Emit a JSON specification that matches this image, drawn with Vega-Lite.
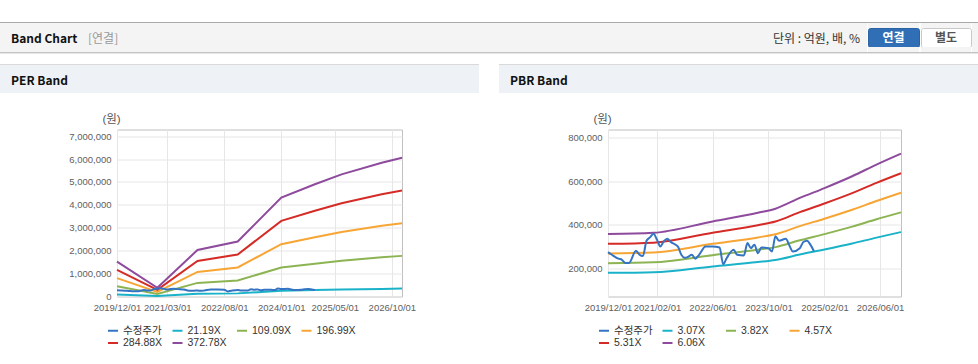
{
  "$schema": "https://vega.github.io/schema/vega-lite/v6.json",
  "autosize": {"type": "pad"},
  "padding": {"left": 0, "top": 22, "right": 0, "bottom": 0},
  "background": "white",
  "datasets": {
    "price": [
      {"date": "2019/12/01", "series": "수정주가", "value": 276000},
      {"date": "2020/01/01", "series": "수정주가", "value": 265000},
      {"date": "2020/03/01", "series": "수정주가", "value": 246000},
      {"date": "2020/04/01", "series": "수정주가", "value": 241000},
      {"date": "2020/05/01", "series": "수정주가", "value": 226000},
      {"date": "2020/06/01", "series": "수정주가", "value": 226000},
      {"date": "2020/08/01", "series": "수정주가", "value": 282000},
      {"date": "2020/09/01", "series": "수정주가", "value": 264000},
      {"date": "2020/10/01", "series": "수정주가", "value": 258000},
      {"date": "2020/11/01", "series": "수정주가", "value": 328000},
      {"date": "2020/12/01", "series": "수정주가", "value": 343000},
      {"date": "2021/01/01", "series": "수정주가", "value": 360000},
      {"date": "2021/02/01", "series": "수정주가", "value": 332000},
      {"date": "2021/03/01", "series": "수정주가", "value": 302000},
      {"date": "2021/04/01", "series": "수정주가", "value": 325000},
      {"date": "2021/05/01", "series": "수정주가", "value": 337000},
      {"date": "2021/06/01", "series": "수정주가", "value": 322000},
      {"date": "2021/08/01", "series": "수정주가", "value": 302000},
      {"date": "2021/09/01", "series": "수정주가", "value": 264000},
      {"date": "2021/10/01", "series": "수정주가", "value": 250000},
      {"date": "2021/11/01", "series": "수정주가", "value": 255000},
      {"date": "2021/12/01", "series": "수정주가", "value": 264000},
      {"date": "2022/01/01", "series": "수정주가", "value": 246000},
      {"date": "2022/02/01", "series": "수정주가", "value": 262000},
      {"date": "2022/04/01", "series": "수정주가", "value": 302000},
      {"date": "2022/06/01", "series": "수정주가", "value": 302000},
      {"date": "2022/08/01", "series": "수정주가", "value": 297000},
      {"date": "2022/09/01", "series": "수정주가", "value": 221000},
      {"date": "2022/10/01", "series": "수정주가", "value": 248000},
      {"date": "2022/12/01", "series": "수정주가", "value": 287000},
      {"date": "2023/01/01", "series": "수정주가", "value": 264000},
      {"date": "2023/03/01", "series": "수정주가", "value": 261000},
      {"date": "2023/04/01", "series": "수정주가", "value": 317000},
      {"date": "2023/05/01", "series": "수정주가", "value": 294000},
      {"date": "2023/06/01", "series": "수정주가", "value": 310000},
      {"date": "2023/07/01", "series": "수정주가", "value": 271000},
      {"date": "2023/08/01", "series": "수정주가", "value": 297000},
      {"date": "2023/10/01", "series": "수정주가", "value": 294000},
      {"date": "2023/11/01", "series": "수정주가", "value": 279000},
      {"date": "2023/12/01", "series": "수정주가", "value": 348000},
      {"date": "2024/01/01", "series": "수정주가", "value": 328000},
      {"date": "2024/03/01", "series": "수정주가", "value": 337000},
      {"date": "2024/04/01", "series": "수정주가", "value": 306000},
      {"date": "2024/05/01", "series": "수정주가", "value": 279000},
      {"date": "2024/07/01", "series": "수정주가", "value": 294000},
      {"date": "2024/08/01", "series": "수정주가", "value": 322000},
      {"date": "2024/09/01", "series": "수정주가", "value": 328000},
      {"date": "2024/10/01", "series": "수정주가", "value": 310000},
      {"date": "2024/11/01", "series": "수정주가", "value": 280000}
    ],
    "perBands": [
      {"date": "2019/12/01", "series": "21.19X", "value": 86400},
      {"date": "2020/12/01", "series": "21.19X", "value": 21600},
      {"date": "2021/12/01", "series": "21.19X", "value": 115400},
      {"date": "2022/12/01", "series": "21.19X", "value": 136400},
      {"date": "2024/01/01", "series": "21.19X", "value": 245600},
      {"date": "2024/11/01", "series": "21.19X", "value": 278500},
      {"date": "2025/07/01", "series": "21.19X", "value": 303000},
      {"date": "2026/07/01", "series": "21.19X", "value": 332000},
      {"date": "2027/01/01", "series": "21.19X", "value": 344500},
      {"date": "2019/12/01", "series": "109.09X", "value": 444800},
      {"date": "2020/12/01", "series": "109.09X", "value": 111200},
      {"date": "2021/12/01", "series": "109.09X", "value": 594100},
      {"date": "2022/12/01", "series": "109.09X", "value": 702300},
      {"date": "2024/01/01", "series": "109.09X", "value": 1264200},
      {"date": "2024/11/01", "series": "109.09X", "value": 1433900},
      {"date": "2025/07/01", "series": "109.09X", "value": 1559800},
      {"date": "2026/07/01", "series": "109.09X", "value": 1709000},
      {"date": "2027/01/01", "series": "109.09X", "value": 1773400},
      {"date": "2019/12/01", "series": "196.99X", "value": 803200},
      {"date": "2020/12/01", "series": "196.99X", "value": 200800},
      {"date": "2021/12/01", "series": "196.99X", "value": 1072700},
      {"date": "2022/12/01", "series": "196.99X", "value": 1268200},
      {"date": "2024/01/01", "series": "196.99X", "value": 2282800},
      {"date": "2024/11/01", "series": "196.99X", "value": 2589300},
      {"date": "2025/07/01", "series": "196.99X", "value": 2816600},
      {"date": "2026/07/01", "series": "196.99X", "value": 3086000},
      {"date": "2027/01/01", "series": "196.99X", "value": 3202300},
      {"date": "2019/12/01", "series": "284.88X", "value": 1161600},
      {"date": "2020/12/01", "series": "284.88X", "value": 290400},
      {"date": "2021/12/01", "series": "284.88X", "value": 1551300},
      {"date": "2022/12/01", "series": "284.88X", "value": 1834100},
      {"date": "2024/01/01", "series": "284.88X", "value": 3301400},
      {"date": "2024/11/01", "series": "284.88X", "value": 3744600},
      {"date": "2025/07/01", "series": "284.88X", "value": 4073200},
      {"date": "2026/07/01", "series": "284.88X", "value": 4462900},
      {"date": "2027/01/01", "series": "284.88X", "value": 4631000},
      {"date": "2019/12/01", "series": "372.78X", "value": 1520000},
      {"date": "2020/12/01", "series": "372.78X", "value": 380000},
      {"date": "2021/12/01", "series": "372.78X", "value": 2030000},
      {"date": "2022/12/01", "series": "372.78X", "value": 2400000},
      {"date": "2024/01/01", "series": "372.78X", "value": 4320000},
      {"date": "2024/11/01", "series": "372.78X", "value": 4900000},
      {"date": "2025/07/01", "series": "372.78X", "value": 5330000},
      {"date": "2026/07/01", "series": "372.78X", "value": 5840000},
      {"date": "2027/01/01", "series": "372.78X", "value": 6060000}
    ],
    "pbrBands": [
      {"date": "2019/12/01", "series": "3.07X", "value": 181400},
      {"date": "2021/01/01", "series": "3.07X", "value": 184400},
      {"date": "2022/06/01", "series": "3.07X", "value": 210800},
      {"date": "2023/07/01", "series": "3.07X", "value": 230500},
      {"date": "2023/12/01", "series": "3.07X", "value": 240100},
      {"date": "2024/07/01", "series": "3.07X", "value": 264900},
      {"date": "2025/02/01", "series": "3.07X", "value": 287700},
      {"date": "2025/10/01", "series": "3.07X", "value": 315100},
      {"date": "2026/05/01", "series": "3.07X", "value": 342000},
      {"date": "2026/12/01", "series": "3.07X", "value": 367300},
      {"date": "2019/12/01", "series": "3.82X", "value": 225700},
      {"date": "2021/01/01", "series": "3.82X", "value": 229500},
      {"date": "2022/06/01", "series": "3.82X", "value": 262200},
      {"date": "2023/07/01", "series": "3.82X", "value": 286800},
      {"date": "2023/12/01", "series": "3.82X", "value": 298800},
      {"date": "2024/07/01", "series": "3.82X", "value": 329700},
      {"date": "2025/02/01", "series": "3.82X", "value": 358000},
      {"date": "2025/10/01", "series": "3.82X", "value": 392100},
      {"date": "2026/05/01", "series": "3.82X", "value": 425500},
      {"date": "2026/12/01", "series": "3.82X", "value": 457000},
      {"date": "2019/12/01", "series": "4.57X", "value": 270000},
      {"date": "2021/01/01", "series": "4.57X", "value": 274500},
      {"date": "2022/06/01", "series": "4.57X", "value": 313700},
      {"date": "2023/07/01", "series": "4.57X", "value": 343100},
      {"date": "2023/12/01", "series": "4.57X", "value": 357500},
      {"date": "2024/07/01", "series": "4.57X", "value": 394400},
      {"date": "2025/02/01", "series": "4.57X", "value": 428300},
      {"date": "2025/10/01", "series": "4.57X", "value": 469100},
      {"date": "2026/05/01", "series": "4.57X", "value": 509100},
      {"date": "2026/12/01", "series": "4.57X", "value": 546800},
      {"date": "2019/12/01", "series": "5.31X", "value": 313700},
      {"date": "2021/01/01", "series": "5.31X", "value": 319000},
      {"date": "2022/06/01", "series": "5.31X", "value": 364500},
      {"date": "2023/07/01", "series": "5.31X", "value": 398700},
      {"date": "2023/12/01", "series": "5.31X", "value": 415300},
      {"date": "2024/07/01", "series": "5.31X", "value": 458300},
      {"date": "2025/02/01", "series": "5.31X", "value": 497700},
      {"date": "2025/10/01", "series": "5.31X", "value": 545000},
      {"date": "2026/05/01", "series": "5.31X", "value": 591500},
      {"date": "2026/12/01", "series": "5.31X", "value": 635300},
      {"date": "2019/12/01", "series": "6.06X", "value": 358000},
      {"date": "2021/01/01", "series": "6.06X", "value": 364000},
      {"date": "2022/06/01", "series": "6.06X", "value": 416000},
      {"date": "2023/07/01", "series": "6.06X", "value": 455000},
      {"date": "2023/12/01", "series": "6.06X", "value": 474000},
      {"date": "2024/07/01", "series": "6.06X", "value": 523000},
      {"date": "2025/02/01", "series": "6.06X", "value": 568000},
      {"date": "2025/10/01", "series": "6.06X", "value": 622000},
      {"date": "2026/05/01", "series": "6.06X", "value": 675000},
      {"date": "2026/12/01", "series": "6.06X", "value": 725000}
    ]
  },
  "bounds": "full",
  "spacing": 0,
  "vconcat": [
    {"width": 978, "height": 1, "data": {"values": []}, "mark": "point", "view": {"fill": "#a9a9a9", "stroke": null}},
    {
      "bounds": "full",
      "spacing": 0,
      "hconcat": [
        {"width": 88, "height": 29, "data": {"values": []}, "mark": "point", "view": {"fill": "#f4f4f4", "stroke": null},
         "title": {"text": "Band Chart", "dx": 11, "offset": -22.5}},
        {"width": 412, "height": 29, "data": {"values": []}, "mark": "point", "view": {"fill": "#f4f4f4", "stroke": null},
         "title": {"text": "[연결]", "fontWeight": "normal", "color": "#999999", "offset": -22.5}},
        {"width": 367, "height": 29, "data": {"values": []}, "mark": "point", "view": {"fill": "#f4f4f4", "stroke": null},
         "title": {"text": "단위 : 억원, 배, %", "anchor": "end", "dx": -7, "fontWeight": "normal", "color": "#333333", "offset": -22.5}},
        {
          "bounds": "flush",
          "spacing": 0,
          "vconcat": [
            {"width": 51, "height": 5, "data": {"values": []}, "mark": "point", "view": {"fill": "#f4f4f4", "stroke": null}},
            {"width": 51, "height": 19, "data": {"values": [{"label": "연결"}]},
             "mark": {"type": "text", "color": "white", "font": "Noto Sans CJK KR", "fontSize": 12, "fontWeight": "bold"},
             "encoding": {"text": {"field": "label"}},
             "view": {"fill": "#306fb6", "stroke": "#2a62a3", "cornerRadius": 2}},
            {"width": 51, "height": 5, "data": {"values": []}, "mark": "point", "view": {"fill": "#f4f4f4", "stroke": null}}
          ]
        },
        {
          "bounds": "flush",
          "spacing": 0,
          "vconcat": [
            {"width": 50, "height": 5, "data": {"values": []}, "mark": "point", "view": {"fill": "#f4f4f4", "stroke": null}},
            {"width": 50, "height": 19, "data": {"values": [{"label": "별도"}]},
             "mark": {"type": "text", "color": "#555555", "font": "Noto Sans CJK KR", "fontSize": 12, "fontWeight": "bold"},
             "encoding": {"text": {"field": "label"}},
             "view": {"fill": "white", "stroke": "#c8c8c8", "cornerRadius": 2}},
            {"width": 50, "height": 5, "data": {"values": []}, "mark": "point", "view": {"fill": "#f4f4f4", "stroke": null}}
          ]
        },
        {"width": 10, "height": 29, "data": {"values": []}, "mark": "point", "view": {"fill": "#f4f4f4", "stroke": null}}
      ]
    },
    {"width": 978, "height": 1, "data": {"values": []}, "mark": "point", "view": {"fill": "#c4c4c4", "stroke": null}},
    {"width": 978, "height": 1, "data": {"values": []}, "mark": "point", "view": {"fill": "#e6e6e6", "stroke": null}},
    {"width": 978, "height": 10, "data": {"values": []}, "mark": "point", "view": {"stroke": null}},
    {
      "bounds": "full",
      "spacing": 19.5,
      "vconcat": [
        {
          "bounds": "full",
          "spacing": 20,
          "hconcat": [
            {
              "bounds": "flush",
              "spacing": 0,
              "vconcat": [
                {"width": 479, "height": 1, "data": {"values": []}, "mark": "point", "view": {"fill": "#d9d9d9", "stroke": null}},
                {"width": 479, "height": 28, "data": {"values": []}, "mark": "point", "view": {"fill": "#eef2f6", "stroke": null},
                 "title": {"text": "PER Band", "dx": 11}}
              ]
            },
            {
              "bounds": "flush",
              "spacing": 0,
              "vconcat": [
                {"width": 479, "height": 1, "data": {"values": []}, "mark": "point", "view": {"fill": "#d9d9d9", "stroke": null}},
                {"width": 479, "height": 28, "data": {"values": []}, "mark": "point", "view": {"fill": "#eef2f6", "stroke": null},
                 "title": {"text": "PBR Band", "dx": 11}}
              ]
            }
          ]
        },
        {
          "bounds": "flush",
          "spacing": 0,
          "hconcat": [
            {"width": 117, "height": 167, "data": {"values": []}, "mark": "point", "view": {"stroke": null}},
            {
              "bounds": "flush",
              "spacing": 206,
              "resolve": {"scale": {"x": "independent", "y": "independent", "color": "independent"}},
              "hconcat": [
                {
                  "width": 285,
                  "height": 167,
                  "view": {"stroke": "#c0c0c0"},
                  "encoding": {
                    "x": {"field": "date", "type": "temporal",
                      "scale": {"domain": [{"year": 2019, "month": 12, "date": 1}, {"year": 2027, "month": 1, "date": 1}]},
                      "axis": {"title": null, "format": "%Y/%m/%d", "grid": true, "labelPadding": 6, "labelOverlap": false, "labelFlush": false,
                        "values": [{"year": 2019, "month": 12, "date": 1}, {"year": 2021, "month": 3, "date": 1}, {"year": 2022, "month": 8, "date": 1}, {"year": 2024, "month": 1, "date": 1}, {"year": 2025, "month": 5, "date": 1}, {"year": 2026, "month": 10, "date": 1}]}},
                    "y": {"field": "value", "type": "quantitative",
                      "scale": {"domain": [0, 7290000], "nice": false, "zero": false},
                      "axis": {"format": ",d", "grid": true, "labelPadding": 6,
                        "values": [0, 1000000, 2000000, 3000000, 4000000, 5000000, 6000000, 7000000],
                        "title": "(원)", "titleAngle": 0, "titleX": -6, "titleY": -10, "titleAlign": "center", "titleBaseline": "middle",
                        "titleFontWeight": "normal", "titleFontSize": 11.5, "titleColor": "#555555", "titleFont": "Liberation Sans, Noto Sans CJK KR"}},
                    "color": {"field": "series", "type": "nominal",
                      "scale": {"domain": ["수정주가", "21.19X", "109.09X", "196.99X", "284.88X", "372.78X"],
                                "range": ["#3574c2", "#1ab2c8", "#8cb452", "#f7a535", "#d52b27", "#8e4a9c"]},
                      "legend": {"orient": "none", "legendX": -10, "legendY": 195}}
                  },
                  "layer": [
                    {"data": {"name": "perBands"}, "mark": {"type": "line", "strokeWidth": 2}},
                    {"data": {"name": "price"}, "mark": {"type": "line", "strokeWidth": 2, "interpolate": "monotone"}}
                  ]
                },
                {
                  "width": 293,
                  "height": 167,
                  "view": {"stroke": "#c0c0c0"},
                  "encoding": {
                    "x": {"field": "date", "type": "temporal",
                      "scale": {"domain": [{"year": 2019, "month": 12, "date": 1}, {"year": 2026, "month": 12, "date": 1}]},
                      "axis": {"title": null, "format": "%Y/%m/%d", "grid": true, "labelPadding": 6, "labelOverlap": false, "labelFlush": false,
                        "values": [{"year": 2019, "month": 12, "date": 1}, {"year": 2021, "month": 2, "date": 1}, {"year": 2022, "month": 6, "date": 1}, {"year": 2023, "month": 10, "date": 1}, {"year": 2025, "month": 2, "date": 1}, {"year": 2026, "month": 6, "date": 1}]}},
                    "y": {"field": "value", "type": "quantitative",
                      "scale": {"domain": [73600, 835000], "nice": false, "zero": false},
                      "axis": {"format": ",d", "grid": true, "labelPadding": 6,
                        "values": [200000, 400000, 600000, 800000],
                        "title": "(원)", "titleAngle": 0, "titleX": -6, "titleY": -10, "titleAlign": "center", "titleBaseline": "middle",
                        "titleFontWeight": "normal", "titleFontSize": 11.5, "titleColor": "#555555", "titleFont": "Liberation Sans, Noto Sans CJK KR"}},
                    "color": {"field": "series", "type": "nominal",
                      "scale": {"domain": ["수정주가", "3.07X", "3.82X", "4.57X", "5.31X", "6.06X"],
                                "range": ["#3574c2", "#1ab2c8", "#8cb452", "#f7a535", "#d52b27", "#8e4a9c"]},
                      "legend": {"orient": "none", "legendX": -10, "legendY": 195}}
                  },
                  "layer": [
                    {"data": {"name": "pbrBands"}, "mark": {"type": "line", "strokeWidth": 2, "interpolate": "monotone"}},
                    {"data": {"name": "price"}, "mark": {"type": "line", "strokeWidth": 2, "interpolate": "monotone"}}
                  ]
                }
              ]
            }
          ]
        }
      ]
    }
  ],
  "config": {
    "view": {"stroke": null},
    "font": "Liberation Sans",
    "title": {"orient": "top", "frame": "group", "anchor": "start", "baseline": "middle", "offset": -23,
              "font": "Noto Sans CJK KR", "fontSize": 12, "fontWeight": "bold", "color": "#111111"},
    "axis": {"labelFont": "Liberation Sans", "labelFontSize": 9.5, "labelColor": "#606060", "gridColor": "#e6e6e6", "domain": false, "ticks": false},
    "legend": {"title": null, "direction": "horizontal", "columns": 4, "symbolType": "stroke", "symbolSize": 100, "symbolStrokeWidth": 2,
               "labelFont": "Liberation Sans, Noto Sans CJK KR", "labelFontSize": 10.5, "labelColor": "#333333", "labelOffset": 4,
               "columnPadding": 5.5, "rowPadding": 0.5, "gridAlign": "all", "padding": 0}
  }
}
